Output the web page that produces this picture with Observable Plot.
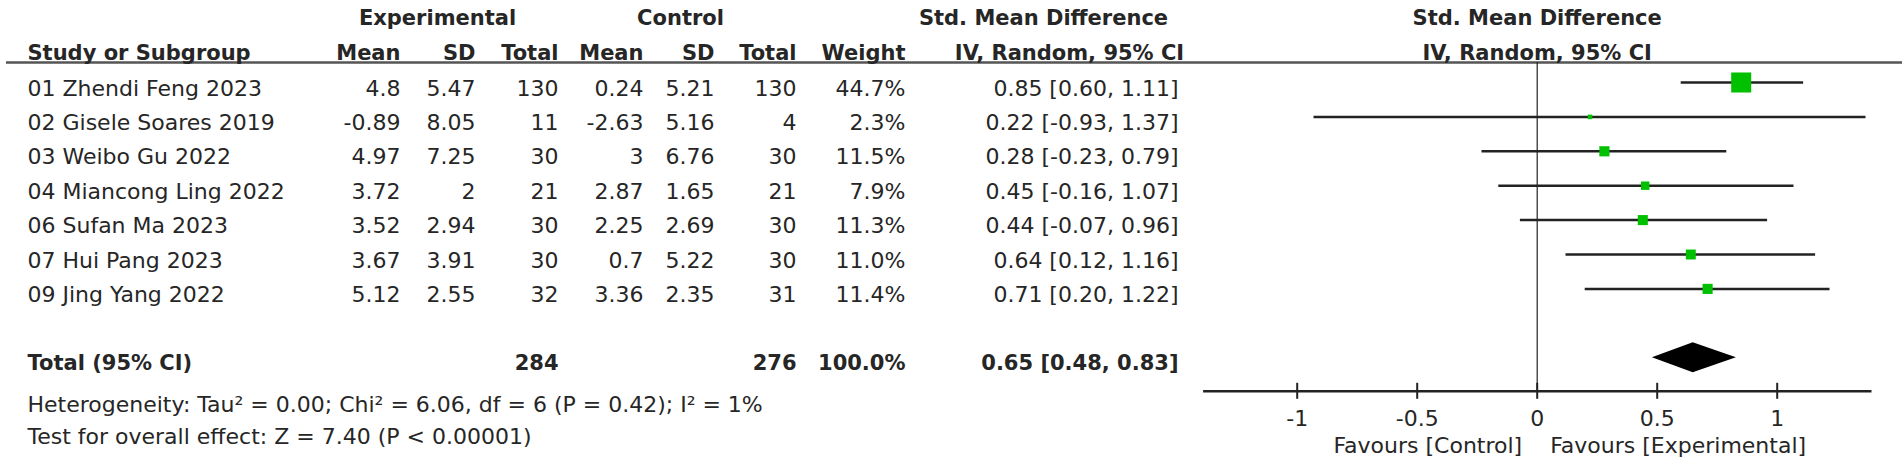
<!DOCTYPE html>
<html><head><meta charset="utf-8">
<script src="https://cdn.jsdelivr.net/npm/d3@7"></script>
<script src="https://cdn.jsdelivr.net/npm/@observablehq/plot@0.6"></script>
<style>html,body{margin:0;padding:0;background:#fff;} #chart{width:1902px;height:470px;}</style>
</head><body><div id="chart"></div>
<script>
// ---- data ----
const studies = ["01 Zhendi Feng 2023", "02 Gisele Soares 2019", "03 Weibo Gu 2022", "04 Miancong Ling 2022", "06 Sufan Ma 2023", "07 Hui Pang 2023", "09 Jing Yang 2022"];
const expMean = [4.8, -0.89, 4.97, 3.72, 3.52, 3.67, 5.12];
const expSD = [5.47, 8.05, 7.25, 2, 2.94, 3.91, 2.55];
const expN = [130, 11, 30, 21, 30, 30, 32];
const ctlMean = [0.24, -2.63, 3, 2.87, 2.25, 0.7, 3.36];
const ctlSD = [5.21, 5.16, 6.76, 1.65, 2.69, 5.22, 2.35];
const ctlN = [130, 4, 30, 21, 30, 30, 31];
const weight = [44.7, 2.3, 11.5, 7.9, 11.3, 11.0, 11.4];
const smd = [0.85, 0.22, 0.28, 0.45, 0.44, 0.64, 0.71];
const ciLow = [0.60, -0.93, -0.23, -0.16, -0.07, 0.12, 0.20];
const ciHigh = [1.11, 1.37, 0.79, 1.07, 0.96, 1.16, 1.22];
const totalLabel = "Total (95% CI)";
const totalExpN = 284, totalCtlN = 276, totalWeight = 100.0;
const totalSmd = 0.65, totalLow = 0.48, totalHigh = 0.83;
const heterogeneity = "Heterogeneity: Tau² = 0.00; Chi² = 6.06, df = 6 (P = 0.42); I² = 1%";
const overallTest = "Test for overall effect: Z = 7.40 (P < 0.00001)";
const xTicks = [-1, -0.5, 0, 0.5, 1];
const xLimits = [-1.39, 1.395];
const groupHeaders = ["Experimental", "Control", "Std. Mean Difference"];
const colHeaders = ["Study or Subgroup", "Mean", "SD", "Total", "Mean", "SD", "Total", "Weight", "IV, Random, 95% CI"];
const plotHeaders = ["Std. Mean Difference", "IV, Random, 95% CI"];
const favours = ["Favours [Control]", "Favours [Experimental]"];

// ---- layout ----
const W = 1902, H = 470, ML = 6;
const rowTop = 82, rowStep = 34.4;
const axisPx = 390.8;
const axisRow = (axisPx - rowTop) / rowStep;
const ruleRow = (62 - rowTop) / rowStep;
const totalRow = 8;
const head1Row = -2.03, head2Row = -1.02, hetRow = 9.19, testRow = 10.12;
const textDy = 6;
const colX = {study: 27, expMean: 400, expSD: 475, expN: 558, ctlMean: 643, ctlSD: 714, ctlN: 796, weight: 905, ci: 1178};
const head1X = [437, 680, 1043];
const head2X = [27, 400, 475, 558, 643, 714, 796, 905, 1069];
const head2Anchor = ["start", "end", "end", "end", "end", "end", "end", "end", "middle"];
const ink = "#262626";
const idx = studies.map((_, i) => i);

const fmtNum = v => String(v);
const fmtW = v => v.toFixed(1) + "%";
const fmtCI = (e, l, h) => `${e.toFixed(2)} [${l.toFixed(2)}, ${h.toFixed(2)}]`;

function column(key, textFn, anchor = "end") {
  return Plot.text(idx, {y: i => i, text: textFn, frameAnchor: "left", lineAnchor: "middle", dx: colX[key] - ML, textAnchor: anchor, dy: textDy, fontSize: 22, fill: ink});
}
function totalCell(key, txt, anchor = "end") {
  return Plot.text([txt], {y: totalRow, text: d => d, frameAnchor: "left", lineAnchor: "middle", dx: colX[key] - ML, textAnchor: anchor, dy: textDy, fontSize: 21, fontWeight: "bold", fill: ink});
}
function note(txt, row) {
  return Plot.text([txt], {y: row, text: d => d, frameAnchor: "left", lineAnchor: "middle", dx: colX.study - ML, textAnchor: "start", dy: textDy, fontSize: 22, fill: ink});
}

const dh = 15 / rowStep;
const diamond = [
  {x: totalLow, y1: totalRow, y2: totalRow},
  {x: totalSmd, y1: totalRow - dh, y2: totalRow + dh},
  {x: totalHigh, y1: totalRow, y2: totalRow}
];
const tickHalf = 8 / rowStep;

const chart = Plot.plot({
  width: W, height: H,
  marginLeft: ML, marginRight: 0, marginTop: 0, marginBottom: H - axisPx,
  style: {fontFamily: "'DejaVu Sans', sans-serif", fontSize: "22px", background: "#fff", color: ink},
  x: {domain: [-1, 1], range: [1296.7, 1776.7]},
  y: {domain: [0, 8], range: [rowTop, rowTop + 8 * rowStep], axis: null},
  r: {domain: [0, 44.7], range: [0, 11.3]},
  marks: [
    // header rule
    Plot.ruleY([ruleRow], {stroke: "#555", strokeWidth: 2.5}),
    // column headers
    ...colHeaders.map((h, i) => Plot.text([h], {y: head2Row, text: d => d, frameAnchor: "left", lineAnchor: "middle", dx: head2X[i] - ML, textAnchor: head2Anchor[i], dy: textDy, fontSize: 21, fontWeight: "bold", fill: ink})),
    ...groupHeaders.map((h, i) => Plot.text([h], {y: head1Row, text: d => d, frameAnchor: "left", lineAnchor: "middle", dx: head1X[i] - ML, textAnchor: "middle", dy: textDy, fontSize: 21, fontWeight: "bold", fill: ink})),
    // study rows
    column("study", i => studies[i], "start"),
    column("expMean", i => fmtNum(expMean[i])),
    column("expSD", i => fmtNum(expSD[i])),
    column("expN", i => fmtNum(expN[i])),
    column("ctlMean", i => fmtNum(ctlMean[i])),
    column("ctlSD", i => fmtNum(ctlSD[i])),
    column("ctlN", i => fmtNum(ctlN[i])),
    column("weight", i => fmtW(weight[i])),
    column("ci", i => fmtCI(smd[i], ciLow[i], ciHigh[i])),
    // total row
    totalCell("study", totalLabel, "start"),
    totalCell("expN", fmtNum(totalExpN)),
    totalCell("ctlN", fmtNum(totalCtlN)),
    totalCell("weight", fmtW(totalWeight)),
    totalCell("ci", fmtCI(totalSmd, totalLow, totalHigh)),
    // footnotes
    note(heterogeneity, hetRow),
    note(overallTest, testRow),
    // forest plot headers
    ...plotHeaders.map((h, i) => Plot.text([h], {x: 0, y: i === 0 ? head1Row : head2Row, text: d => d, textAnchor: "middle", lineAnchor: "middle", dy: textDy, fontSize: 21, fontWeight: "bold", fill: ink})),
    // zero line
    Plot.ruleX([0], {y1: ruleRow, y2: axisRow, stroke: "#222", strokeWidth: 1.2}),
    // CI lines
    Plot.ruleY(idx, {y: i => i, x1: i => ciLow[i], x2: i => ciHigh[i], stroke: "#222", strokeWidth: 2.5}),
    // weighted squares
    Plot.dot(idx, {x: i => smd[i], y: i => i, r: i => weight[i], symbol: "square", fill: "#00c000", stroke: "none"}),
    // pooled diamond
    Plot.areaY(diamond, {x: "x", y1: "y1", y2: "y2", fill: "black"}),
    // axis line and ticks
    Plot.ruleY([axisRow], {x1: xLimits[0], x2: xLimits[1], stroke: "#222", strokeWidth: 2.5}),
    Plot.ruleX(xTicks, {x: d => d, y1: axisRow - tickHalf, y2: axisRow + tickHalf, stroke: "#222", strokeWidth: 2}),
    Plot.axisX(xTicks, {anchor: "bottom", tickSize: 0, tickPadding: 18.6, tickFormat: d => String(d), fontSize: 22, label: null, fill: ink}),
    // favours labels
    Plot.text([favours[0]], {x: 0, frameAnchor: "bottom", lineAnchor: "middle", text: d => d, textAnchor: "end", dx: -15, dy: 55, fontSize: 22, fill: ink}),
    Plot.text([favours[1]], {x: 0, frameAnchor: "bottom", lineAnchor: "middle", text: d => d, textAnchor: "start", dx: 13, dy: 55, fontSize: 22, fill: ink})
  ]
});
document.getElementById("chart").appendChild(chart);
</script>
</body></html>
